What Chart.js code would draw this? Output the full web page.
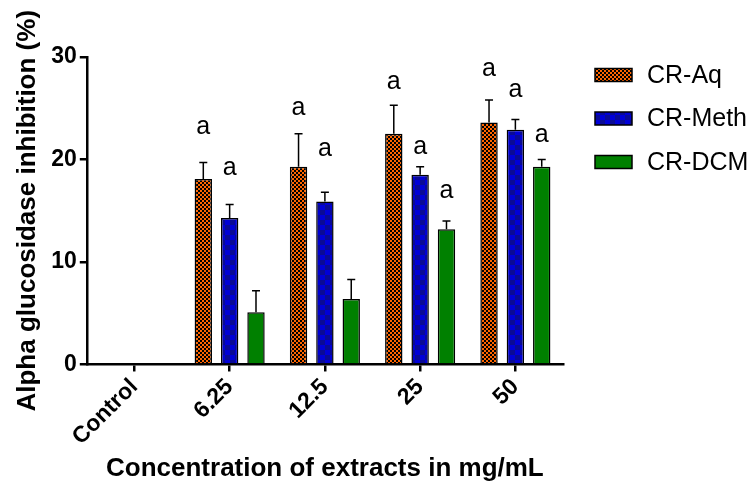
<!DOCTYPE html>
<html>
<head>
<meta charset="utf-8">
<script src="https://cdn.jsdelivr.net/npm/chart.js@4"></script>
<style>
  body { margin: 0; background: #fff; }
  canvas { display: block; }
</style>
</head>
<body>
<canvas id="chart" width="751" height="484"></canvas>
<script>
// data
const categories = ["Control", "6.25", "12.5", "25", "50"];
const seriesNames = ["CR-Aq", "CR-Meth", "CR-DCM"];

const aqMeans = [null, 18.1, 19.3, 22.5, 23.6];
const aqErr = [null, 1.6, 3.2, 2.8, 2.2];
const methMeans = [null, 14.3, 15.9, 18.5, 22.9];
const methErr = [null, 1.3, 0.9, 0.8, 1.0];
const dcmMeans = [null, 5.1, 6.4, 13.2, 19.3];
const dcmErr = [null, 2.1, 1.9, 0.8, 0.7];

// significance letters and the height (in %) where each sits
const aqLetters = ["", "a", "a", "a", "a"];
const methLetters = ["", "a", "a", "a", "a"];
const dcmLetters = ["", "", "", "a", "a"];
const aqLetterY = [null, 22.9, 24.7, 27.3, 28.5];
const methLetterY = [null, 18.9, 20.7, 20.9, 26.5];
const dcmLetterY = [null, null, null, 16.6, 22.1];

const yTicks = [0, 10, 20, 30];

const FONT = "'Liberation Sans', Arial, sans-serif";

function checker(c1, c2, size) {
  const cv = document.createElement("canvas");
  cv.width = size * 2;
  cv.height = size * 2;
  const c = cv.getContext("2d");
  c.fillStyle = c1;
  c.fillRect(0, 0, size * 2, size * 2);
  c.fillStyle = c2;
  c.fillRect(0, 0, size, size);
  c.fillRect(size, size, size, size);
  return c.createPattern(cv, "repeat");
}

const ctx = document.getElementById("chart").getContext("2d");
const fills = [checker("#FF6600", "#000000", 2), checker("#0000D8", "#0A0A96", 5), "#008000"];

const errorBars = {
  id: "errorBars",
  afterDatasetsDraw(chart) {
    const c = chart.ctx;
    const y = chart.scales.y;
    c.save();
    c.strokeStyle = "#000";
    c.lineWidth = 1.5;
    chart.data.datasets.forEach((ds, i) => {
      const meta = chart.getDatasetMeta(i);
      meta.data.forEach((bar, j) => {
        const v = ds.data[j];
        if (v == null) return;
        const top = y.getPixelForValue(v + ds.errors[j]);
        c.beginPath();
        c.moveTo(bar.x, bar.y);
        c.lineTo(bar.x, top);
        c.moveTo(bar.x - 4, top);
        c.lineTo(bar.x + 4, top);
        c.stroke();
      });
    });
    c.restore();
  }
};

const letters = {
  id: "letters",
  afterDatasetsDraw(chart) {
    const c = chart.ctx;
    const y = chart.scales.y;
    c.save();
    c.fillStyle = "#000";
    c.font = "25px " + FONT;
    c.textAlign = "center";
    c.textBaseline = "middle";
    chart.data.datasets.forEach((ds, i) => {
      const meta = chart.getDatasetMeta(i);
      meta.data.forEach((bar, j) => {
        if (!ds.letters[j]) return;
        c.fillText(ds.letters[j], bar.x, y.getPixelForValue(ds.letterY[j]) - 3);
      });
    });
    c.restore();
  }
};

const sideLegend = {
  id: "sideLegend",
  afterDraw(chart) {
    const c = chart.ctx;
    const x0 = chart.chartArea.right + 32;
    c.save();
    c.font = "25px " + FONT;
    c.textBaseline = "middle";
    chart.data.datasets.forEach((ds, i) => {
      const cy = chart.chartArea.top + 18 + i * 43.5;
      c.fillStyle = ds.backgroundColor;
      c.fillRect(x0, cy - 6.5, 37, 13);
      c.strokeStyle = "#000";
      c.lineWidth = 1.5;
      c.strokeRect(x0, cy - 6.5, 37, 13);
      c.fillStyle = "#000";
      c.fillText(ds.label, x0 + 52, cy + 1);
    });
    c.restore();
  }
};

new Chart(ctx, {
  type: "bar",
  data: {
    labels: categories,
    datasets: [
      { label: seriesNames[0], data: aqMeans, errors: aqErr, letters: aqLetters, letterY: aqLetterY, backgroundColor: fills[0] },
      { label: seriesNames[1], data: methMeans, errors: methErr, letters: methLetters, letterY: methLetterY, backgroundColor: fills[1] },
      { label: seriesNames[2], data: dcmMeans, errors: dcmErr, letters: dcmLetters, letterY: dcmLetterY, backgroundColor: fills[2] }
    ].map(d => Object.assign(d, {
      borderColor: "#000",
      borderWidth: 1.5,
      categoryPercentage: 0.83,
      barPercentage: 0.66
    }))
  },
  options: {
    responsive: false,
    animation: false,
    layout: { padding: { left: 8, top: 57, right: 188, bottom: 0 } },
    plugins: {
      legend: { display: false },
      tooltip: { enabled: false }
    },
    scales: {
      x: {
        grid: { offset: false, drawOnChartArea: false, color: "#000", lineWidth: 2.5, tickLength: 7 },
        border: { color: "#000", width: 2.5 },
        ticks: {
          color: "#000",
          font: { family: FONT, size: 23, weight: "bold" },
          minRotation: 45,
          maxRotation: 45,
          padding: 2
        },
        title: {
          display: true,
          text: "Concentration of extracts in mg/mL",
          color: "#000",
          font: { family: FONT, size: 26, weight: "bold" },
          padding: { top: 0, bottom: 0 }
        }
      },
      y: {
        min: 0,
        max: 30,
        afterBuildTicks: axis => { axis.ticks = yTicks.map(v => ({ value: v })); },
        grid: { drawOnChartArea: false, color: "#000", lineWidth: 2.5, tickLength: 7 },
        border: { color: "#000", width: 2.5 },
        ticks: {
          color: "#000",
          font: { family: FONT, size: 23, weight: "bold" },
          padding: 3
        },
        title: {
          display: true,
          text: "Alpha glucosidase inhibition (%)",
          color: "#000",
          font: { family: FONT, size: 26, weight: "bold" },
          padding: { top: 4, bottom: 5 }
        }
      }
    }
  },
  plugins: [errorBars, letters, sideLegend]
});
</script>
</body>
</html>
